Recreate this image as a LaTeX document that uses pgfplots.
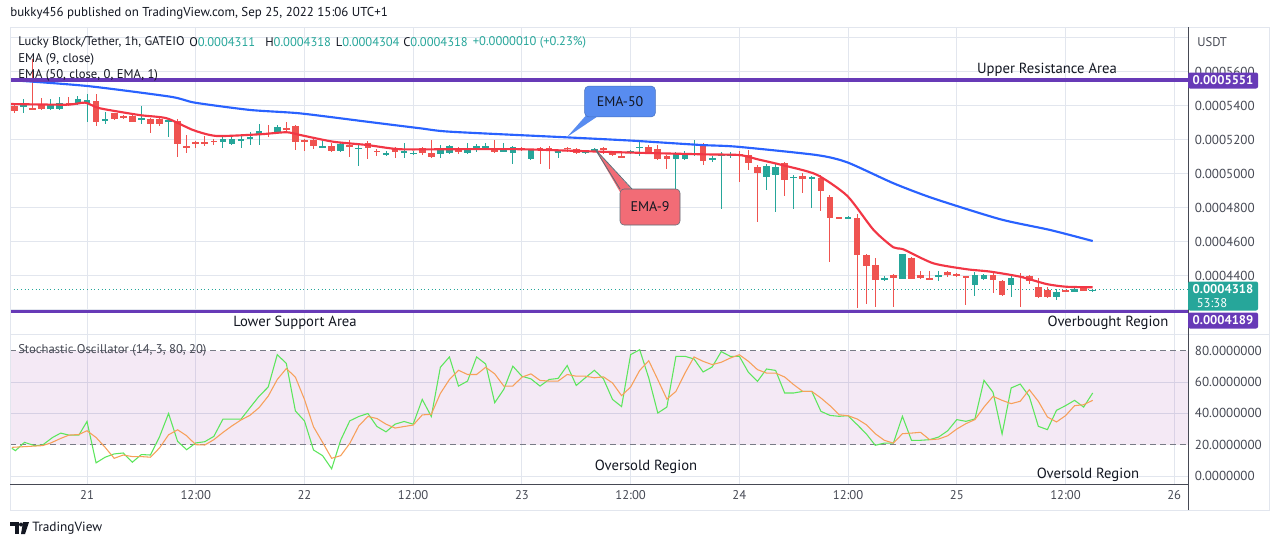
\documentclass[border=0pt]{standalone}
\usepackage{pgfplots}
\pgfplotsset{compat=1.18}
\usepackage{pgfplotstable}
\usepackage{fontspec}
\setmainfont{PT Sans}
\definecolor{upc}{RGB}{38,166,154}
\definecolor{dnc}{RGB}{239,83,80}
\definecolor{ema9}{RGB}{242,54,69}
\definecolor{ema50}{RGB}{41,98,255}
\definecolor{purp}{RGB}{103,58,183}
\definecolor{gridc}{RGB}{226,230,238}
\definecolor{txt}{RGB}{19,23,34}
\definecolor{lbl}{RGB}{70,73,84}
\definecolor{kc}{RGB}{92,230,92}
\definecolor{dc}{RGB}{247,160,90}
\definecolor{dashc}{RGB}{120,123,134}
\definecolor{box50}{RGB}{88,140,240}
\definecolor{box9}{RGB}{242,108,118}
\definecolor{bandc}{RGB}{150,40,165}
\definecolor{bandgrid}{RGB}{214,208,228}
\definecolor{boxedge}{RGB}{90,110,120}

\pgfplotstableread{
t o h l c
-7 539.1 543.8 535.9 540.2
-4 538.2 543.8 537.6 540.8
-3 537.9 544.9 537.2 541.4
-1 541.0 545.5 540.5 543.8
0 541.4 546.9 530.6 543.4
2 531.2 536.5 529.1 532.0
6 531.4 539.6 529.1 532.6
9 530.8 531.6 521.4 531.2
15 518.8 521.6 515.3 520.4
16 517.3 521.5 516.8 520.4
17 519.6 523.5 515.3 520.4
18 520.9 524.7 516.9 521.6
19 522.8 529.2 517.1 525.1
21 524.7 528.5 523.3 527.5
26 515.5 519.5 515.0 516.3
28 513.5 518.5 513.0 517.5
30 514.6 518.2 504.5 515.2
33 511.4 513.5 510.4 512.3
35 511.9 518.0 509.5 513.4
36 511.8 513.5 511.0 512.4
39 511.6 516.9 509.5 514.9
40 512.4 517.0 511.5 516.3
42 512.4 518.2 511.5 513.9
43 513.9 517.5 513.0 516.3
44 515.0 518.0 514.0 516.3
46 513.4 518.2 512.5 513.9
47 512.0 516.5 505.5 515.5
49 508.5 514.5 508.0 513.9
52 512.5 514.0 509.5 513.4
55 512.5 514.0 511.5 513.2
56 513.4 515.0 512.5 514.4
60 512.5 514.2 511.5 513.3
61 515.0 519.8 510.4 515.9
65 508.5 513.0 485.5 512.4
66 508.5 513.5 508.0 512.4
67 511.5 519.8 510.5 512.3
69 508.0 510.5 507.0 509.0
70 510.8 512.5 479.4 511.6
71 510.5 512.5 509.0 511.2
75 498.2 506.0 490.4 504.5
76 499.2 506.0 477.6 503.8
78 497.6 499.0 479.4 498.1
80 497.3 498.5 479.6 497.9
84 473.8 475.0 473.3 474.3
88 437.9 440.0 436.7 438.8
90 438.1 453.0 437.8 452.8
94 439.6 442.5 437.1 440.2
98 434.5 442.4 428.2 440.4
99 438.1 441.0 437.6 440.4
102 434.5 441.0 427.6 438.5
107 427.6 432.0 425.8 430.2
109 430.6 432.5 430.3 432.2
111 431.1 431.8 430.4 431.8
}\upd

\pgfplotstableread{
t o h l c
-8 539.8 541.4 535.9 537.1
-6 538.4 567.3 537.5 538.0
-5 540.8 544.5 537.5 538.2
-2 541.4 545.0 540.0 540.6
1 542.6 546.9 528.2 530.6
3 535.7 536.0 531.6 532.4
4 533.9 534.5 532.3 533.2
5 533.9 534.5 530.2 530.6
7 532.0 533.0 524.1 529.1
8 532.0 533.9 528.2 529.3
10 530.8 532.4 510.0 517.3
11 516.3 522.8 512.4 515.3
12 518.6 519.5 515.0 517.3
13 518.4 522.2 516.2 517.3
14 519.5 520.5 517.0 518.5
20 524.2 528.5 521.5 523.2
22 526.8 530.3 524.0 525.5
23 528.1 528.5 513.9 518.8
24 519.8 520.5 513.5 518.8
25 519.8 520.5 514.5 516.3
27 516.3 518.0 513.0 513.5
29 516.9 519.8 510.0 516.1
31 518.2 519.0 508.5 515.3
32 513.5 514.5 510.5 512.7
34 515.3 516.0 509.5 512.9
37 514.9 516.0 511.0 512.0
38 512.4 519.8 509.0 510.0
41 514.9 516.0 511.5 512.9
45 514.9 519.8 512.0 512.9
48 515.3 516.0 513.5 514.5
50 514.9 516.0 505.7 514.2
51 514.9 516.3 502.6 514.2
53 515.3 516.0 513.0 514.5
54 514.4 515.0 511.5 512.0
57 514.9 515.5 511.5 514.2
58 512.4 513.5 510.2 510.8
59 510.4 513.5 509.0 509.6
62 515.9 517.0 511.5 512.4
63 514.4 516.9 508.0 508.8
64 510.4 511.0 502.6 508.8
68 516.5 517.9 505.1 507.6
72 511.6 513.5 495.3 510.4
73 511.0 513.9 502.2 506.1
74 503.8 505.0 471.8 500.6
77 506.1 507.0 487.1 496.3
79 498.6 500.2 488.8 497.0
81 497.3 499.2 478.2 490.0
82 486.1 487.3 448.2 474.1
83 474.3 474.8 473.3 473.8
85 473.8 476.3 420.8 452.2
86 452.2 452.8 423.4 445.7
87 446.3 450.2 421.8 437.5
89 440.4 441.0 421.8 438.5
91 450.6 451.0 437.8 438.1
92 440.4 442.5 438.0 438.5
93 438.4 442.5 437.8 438.0
95 442.0 442.5 439.0 440.2
96 441.0 441.5 439.5 440.0
97 439.6 440.0 422.8 439.2
100 440.4 442.4 430.0 437.5
101 436.9 437.5 428.0 428.6
103 440.0 441.5 421.4 439.4
104 439.8 440.5 435.0 437.0
105 433.5 438.5 427.0 427.6
106 431.6 433.6 426.8 427.6
108 431.3 431.8 430.4 430.8
110 433.2 433.5 430.8 431.0
}\dnd

\newcommand{\fs}[1]{\fontsize{#1}{#1}\selectfont}

\begin{document}
\begin{tikzpicture}
\begin{scope}[x=0.75pt,y=-0.75pt]
\fill[white] (0,0) rectangle (1280,546);
\end{scope}

% ---------------- price pane ----------------
\begin{axis}[
  at={(7.5pt,-250.5pt)}, anchor=south west, scale only axis,
  width=883.5pt, height=230.25pt,
  xmin=-8.5, xmax=121.52, ymin=405.7, ymax=586.3,
  axis line style={draw=none},
  xtick={0,12,...,120}, xticklabels={},
  ytick={420,440,...,580},
  yticklabels={,0.0004400,0.0004600,0.0004800,0.0005000,0.0005200,0.0005400,0.0005600,},
  yticklabel pos=right,
  yticklabel style={anchor=west, xshift=5pt, inner sep=0pt, font=\fs{9.8}, text=lbl},
  grid=major, major grid style={gridc, line width=0.75pt},
  major tick length=0pt,
]
\addplot[upc, line width=0.75pt, dotted, forget plot] coordinates {(-8.5,431.8) (121.52,431.8)};
\addplot[draw=none, mark=none, forget plot, error bars/.cd, y dir=both, y explicit, error mark=none,
  error bar style={draw=upc, line width=0.75pt}]
  table[x=t, y expr={(\thisrow{h}+\thisrow{l})/2}, y error expr={(\thisrow{h}-\thisrow{l})/2}] {\upd};
\addplot[draw=none, mark=none, forget plot, error bars/.cd, y dir=both, y explicit, error mark=none,
  error bar style={draw=dnc, line width=0.75pt}]
  table[x=t, y expr={(\thisrow{h}+\thisrow{l})/2}, y error expr={(\thisrow{h}-\thisrow{l})/2}] {\dnd};
\addplot[draw=none, mark=none, forget plot, error bars/.cd, y dir=both, y explicit, error mark=none,
  error bar style={draw=upc, line width=5pt}]
  table[x=t, y expr={(\thisrow{o}+\thisrow{c})/2}, y error expr={max(abs(\thisrow{c}-\thisrow{o})/2,0.35)}] {\upd};
\addplot[draw=none, mark=none, forget plot, error bars/.cd, y dir=both, y explicit, error mark=none,
  error bar style={draw=dnc, line width=5pt}]
  table[x=t, y expr={(\thisrow{o}+\thisrow{c})/2}, y error expr={max(abs(\thisrow{c}-\thisrow{o})/2,0.35)}] {\dnd};
\addplot[ema50, line width=1.6pt, smooth, tension=0.4] coordinates {
(-8.5,555.1) (0,551.6) (9.2,545.3) (11.9,541.8) (18,537.5) (23.5,535.5) (30.9,530.6)
(36.8,526.7) (40.1,524.7) (52.9,521.4) (60.3,519.4) (67.7,516.9) (71.7,515.9) (80.5,511)
(83.9,506.7) (89,494.4) (93.4,485.5) (100.8,473.2) (106.3,466.9) (111,460.4)};
\addplot[ema9, line width=1.6pt, smooth, tension=0.4] coordinates {
(-8.5,541.0) (-2.2,540.6) (-0.2,541.8) (1.4,538.5) (5.8,534.5) (8.8,532.6) (11.7,525.7)
(14.3,522.2) (19.1,523.2) (22,524.4) (23.5,522.8) (27.2,518.8) (30.9,516.9) (34.5,514.4)
(40,514.4) (47.8,514.4) (58.8,512.6) (68,511.4) (72,511) (74,508.5) (76.8,505) (80.5,499.5)
(83.9,487) (86.8,467) (89,456.7) (90.1,455.5) (93.4,447.3) (97.1,443.8) (99.7,442.4)
(103,439.4) (105.9,435.1) (108.1,433.5) (111,433.2)};
\addplot[purp, line width=2.4pt] coordinates {(-8.5,555.1) (121.52,555.1)};
\addplot[purp, line width=2.4pt] coordinates {(-8.5,418.9) (121.52,418.9)};
\end{axis}

% ---------------- stochastic pane ----------------
\begin{axis}[
  at={(7.5pt,-363pt)}, anchor=south west, scale only axis,
  width=883.5pt, height=111.75pt,
  xmin=-8.5, xmax=121.52, ymin=-5.1, ymax=90,
  axis line style={draw=none},
  xtick={0,12,...,120},
  xticklabels={21,12:00,22,12:00,23,12:00,24,12:00,25,12:00,26},
  xticklabel style={anchor=north, yshift=-5pt, inner sep=0pt, font=\fs{9.5}, text=lbl},
  ytick={0,20,40,60,80},
  yticklabels={0.0000000,20.0000000,40.0000000,60.0000000,80.0000000},
  yticklabel pos=right,
  yticklabel style={anchor=west, xshift=5pt, inner sep=0pt, font=\fs{9.8}, text=lbl},
  xmajorgrids, major grid style={gridc, line width=0.75pt},
  major tick length=0pt,
]
\addplot[draw=none, fill=bandc, fill opacity=0.1, forget plot]
  coordinates {(-8.5,20) (121.52,20) (121.52,80) (-8.5,80)} -- cycle;
\addplot[gridc, line width=0.75pt, forget plot] coordinates {(-8.5,0) (121.52,0)};
\addplot[bandgrid, line width=0.75pt, forget plot] coordinates {(-8.5,40) (121.52,40)};
\addplot[bandgrid, line width=0.75pt, forget plot] coordinates {(-8.5,60) (121.52,60)};
\addplot[dashc, line width=0.75pt, dash pattern=on 4.5pt off 3pt, forget plot] coordinates {(-8.5,20) (121.52,20)};
\addplot[dashc, line width=0.75pt, dash pattern=on 4.5pt off 3pt, forget plot] coordinates {(-8.5,80) (121.52,80)};
\addplot[kc, line width=0.8pt] coordinates {
(-8.3,17.7) (-7.9,16.2) (-6.9,21.5) (-5.8,19.4) (-4.9,19.8) (-3.8,24.6) (-2.9,27.4) (-2,26.1)
(-0.9,26.1) (0,34.8) (1,8.4) (2,12) (3,14.1) (4,14.7) (5,8.8) (6,13.7) (7,13.4) (8,25)
(9,39.9) (10,22.1) (11,16.8) (12,21.1) (13,21.9) (14,25.3) (15,36.3) (16,36.3) (17,36.3)
(18,43.7) (19,51) (20,56.8) (21,77.5) (22,71.8) (23,41.5) (24,35.2) (25,16.6) (26,13)
(27,4.6) (28,22.9) (29,35.2) (30,38) (31,39.9) (32,31.6) (33,28.2) (34,33.1) (35,34.8)
(36,33.1) (37,48.9) (38,38) (39,69.4) (40,76) (41,57.4) (42,60.6) (43,76) (44,71.5)
(45,46.8) (46,55.3) (47,70.1) (48,63.7) (49,62) (50,57.4) (51,61.6) (52,62.3) (53,70.5)
(54,57.8) (55,62.7) (56,67.5) (57,62) (58,48.9) (59,44.3) (60,77.5) (61,80.6) (62,62.6)
(63,40.2) (64,44) (65,76.4) (66,76.4) (67,74.7) (68,66.4) (69,69.6) (70,79.4) (71,76.4)
(72,76.4) (73,66.2) (74,60.4) (75,68.3) (76,67.4) (77,53) (78,53) (79,54) (80,54)
(81,41.3) (82,38.7) (83,38.1) (84,38.5) (85,32.8) (86,27) (87,19.6) (88,21) (89,21)
(90,38.1) (91,22.8) (92,22.8) (93,23.2) (94,24.9) (95,28.9) (96,36) (97,34.9) (98,36.4)
(99,61.1) (100,53.4) (101,26.8) (102,56.2) (103,58.7) (104,50.8) (105,31.7) (106,29.6)
(107,41.9) (108,44.9) (109,48.3) (110,44) (111,53)};
\addplot[dc, line width=0.8pt] coordinates {
(-8.3,18.3) (-4.9,19.4) (-4,21.1) (-2.9,24) (-2,26.1) (-0.9,26.5) (0,28.9) (1,24.6) (2,18.3)
(3,11.3) (4,13.4) (5,12.4) (6,12.4) (7,12) (8,17.9) (9,26.3) (10,29.5) (11,25.7) (12,20)
(13,19.8) (14,23.2) (15,27.8) (16,32) (17,35.8) (18,38.8) (19,43.7) (20,51) (21,61.6)
(22,68.6) (23,63.1) (24,48.9) (25,31.4) (26,21.5) (27,11.3) (28,13) (29,20.8) (30,32)
(31,38) (32,36.7) (33,33.1) (34,30.6) (35,31.6) (36,32.5) (37,39) (38,39.4) (39,52.7)
(40,61.6) (41,67.5) (42,64.8) (43,64.8) (44,69.4) (45,65.2) (46,57.4) (47,57.4) (48,63.1)
(49,65.2) (50,61) (51,60.6) (52,60.6) (53,64.8) (54,63.7) (55,63.7) (56,62.7) (57,63.3)
(58,59.4) (59,51.3) (60,56.8) (61,67.4) (62,73.6) (63,61.5) (64,49.1) (65,54) (66,65.7)
(67,76) (68,73.2) (69,71.1) (70,72.6) (71,75.3) (72,77.4) (73,73.2) (74,67.9) (75,65.7)
(76,65.7) (77,63.2) (78,58.3) (79,54) (80,54) (81,49.8) (82,44.9) (83,39.1) (84,38.5)
(85,36.4) (86,32.8) (87,27) (88,22.8) (89,21) (90,27) (91,27.4) (92,27.9) (93,23.2)
(94,23.6) (95,25.7) (96,30) (97,33.4) (98,36) (99,44) (100,50.8) (101,48.3) (102,46.2)
(103,47.7) (104,55.1) (105,47.7) (106,37.7) (107,34.5) (108,38.5) (109,44.9) (110,45.5)
(111,48.3)};
\end{axis}

% ---------------- overlays in pixel coordinates ----------------
\begin{scope}[x=0.75pt,y=-0.75pt]
\draw[gridc, line width=0.75pt] (10,27) rectangle (1269,510);
\draw[gridc, line width=0.75pt] (10,334.5) -- (1269,334.5);
\draw[lbl, line width=0.75pt] (1188,27) -- (1188,510);
\draw[lbl, line width=0.75pt] (10,484) -- (1188,484);

\node[anchor=west, inner sep=0pt, text=txt, font=\fs{9.7}] at (10,13) {bukky456 published on TradingView.com, Sep 25, 2022 15:06 UTC+1};
\node[anchor=west, inner sep=0pt, text=txt, font=\fs{9.4}] at (18,42) {Lucky Block/Tether, 1h, GATEIO};
\node[anchor=west, inner sep=0pt, text=txt, font=\fs{9.4}] at (189,42) {O\textcolor{upc}{0.0004311}};
\node[anchor=west, inner sep=0pt, text=txt, font=\fs{9.4}] at (265,42) {H\textcolor{upc}{0.0004318}};
\node[anchor=west, inner sep=0pt, text=txt, font=\fs{9.4}] at (335.5,42) {L\textcolor{upc}{0.0004304}};
\node[anchor=west, inner sep=0pt, text=txt, font=\fs{9.4}] at (403,42) {C\textcolor{upc}{0.0004318}};
\node[anchor=west, inner sep=0pt, text=upc, font=\fs{9.4}] at (472.6,42) {+0.0000010 (+0.23\%)};
\node[anchor=west, inner sep=0pt, text=txt, font=\fs{9.5}] at (18,59) {EMA (9, close)};
\node[anchor=west, inner sep=0pt, text=txt, font=\fs{9.5}] at (18,75) {EMA (50, close, 0, EMA, 1)};

\node[inner sep=0pt, text=txt, font=\fs{11}] at (1047,70) {Upper Resistance Area};
\node[inner sep=0pt, text=txt, font=\fs{11}] at (295,323) {Lower Support Area};
\node[inner sep=0pt, text=txt, font=\fs{11}] at (1108,323) {Overbought Region};
\node[anchor=west, inner sep=0pt, text=lbl, font=\fs{9.5}] at (18,350) {Stochastic Oscillator (14, 3, 80, 20)};
\node[inner sep=0pt, text=txt, font=\fs{11}] at (646,467) {Oversold Region};
\node[inner sep=0pt, text=txt, font=\fs{11}] at (1088,475) {Oversold Region};

\fill[box50] (589,112) -- (567,137) -- (604,112) -- cycle;
\node[fill=box50, draw=box50!80!black, rounded corners=3pt, minimum width=53pt, minimum height=23pt, inner sep=0pt, text=txt, font=\fs{10.5}] at (620,101.5) {EMA-50};
\fill[box9] (620,192) -- (595,149) -- (634,192) -- cycle;
\draw[boxedge, line width=0.6pt] (620,189) -- (595,149) -- (632,189);
\node[fill=box9, draw=boxedge, rounded corners=3pt, minimum width=45pt, minimum height=27pt, inner sep=0pt, text=txt, font=\fs{10.5}] at (650,207) {EMA-9};

\node[anchor=west, inner sep=0pt, text=lbl, font=\fs{9.5}] at (1197,42) {USDT};
\fill[purp, rounded corners=1.5pt] (1188,72.5) rectangle (1258,88.5);
\node[inner sep=0pt, text=white, font=\bfseries\fs{9.5}] at (1223,80.5) {0.0005551};
\fill[upc, rounded corners=1.5pt] (1188,281.5) rectangle (1258,310.5);
\node[inner sep=0pt, text=white, font=\bfseries\fs{9.5}] at (1223,289.5) {0.0004318};
\node[inner sep=0pt, text=white, font=\fs{9.5}] at (1212,303) {53:38};
\fill[purp, rounded corners=1.5pt] (1188,312.5) rectangle (1258,328.5);
\node[inner sep=0pt, text=white, font=\bfseries\fs{9.5}] at (1223,320.5) {0.0004189};

\fill[txt] (10,522) rectangle (19,526);
\fill[txt] (15,522) rectangle (19,534);
\fill[txt] (21,524.5) circle (2);
\fill[txt] (23,522) -- (29,522) -- (25,534) -- (21,534) -- cycle;
\node[anchor=west, inner sep=0pt, text=txt, font=\fs{10}] at (32,528) {TradingView};
\end{scope}
\end{tikzpicture}
\end{document}
